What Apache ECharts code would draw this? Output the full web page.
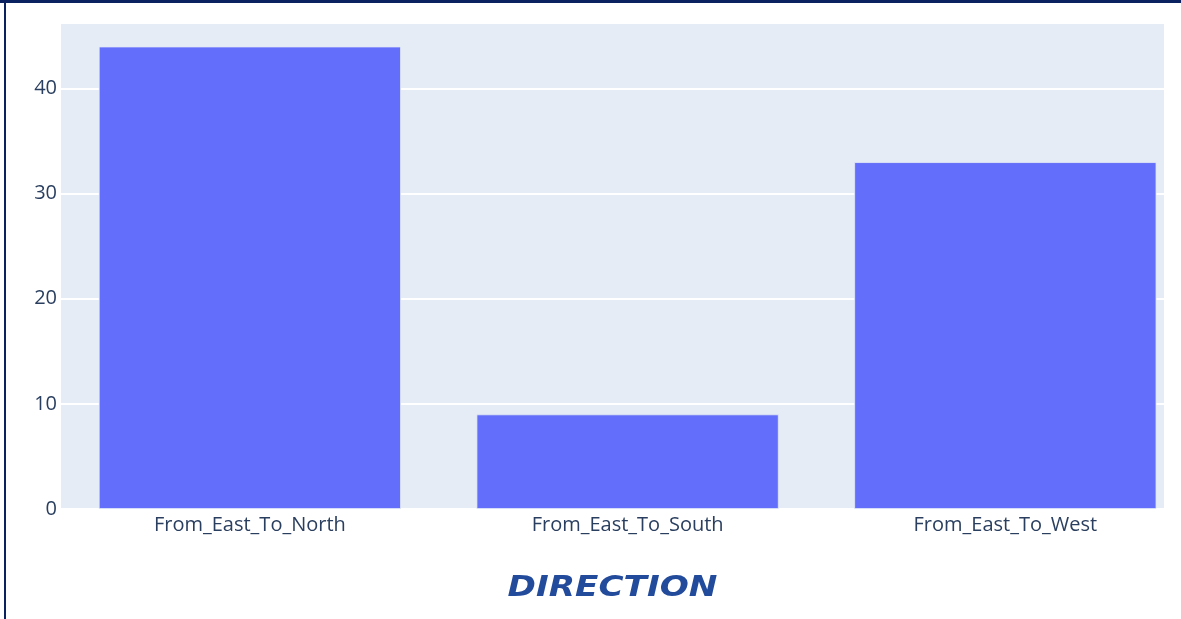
<!DOCTYPE html>
<html>
<head>
<meta charset="utf-8">
<script src="https://cdn.jsdelivr.net/npm/echarts@6/dist/echarts.min.js"></script>
<style>
html,body{margin:0;padding:0;background:#fff;}
#chart{width:1181px;height:619px;}
</style>
</head>
<body>
<div id="chart"></div>
<script>
const categories = ["From_East_To_North", "From_East_To_South", "From_East_To_West"];
const counts = [44, 9, 33];
const yTicks = [0, 10, 20, 30, 40];
const titleText = "DIRECTION";

const chart = echarts.init(document.getElementById('chart'), null, {renderer: 'canvas'});
const positions = categories.map((c, i) => i);
const option = {
  animation: false,
  backgroundColor: '#ffffff',
  grid: {left: 61, right: 17, top: 23, bottom: 110, show: true, backgroundColor: '#E5ECF6', borderWidth: 0},
  xAxis: {
    type: 'value',
    min: -0.5,
    max: 2.42,
    axisLine: {show: true, onZero: false, lineStyle: {color: '#ffffff', width: 2}},
    axisTick: {show: false},
    splitLine: {show: false},
    axisLabel: {
      customValues: positions,
      formatter: v => categories[Math.round(v)],
      fontFamily: 'Open Sans',
      fontSize: 20,
      color: '#2a3f5f',
      margin: 6
    }
  },
  yAxis: {
    type: 'value',
    min: 0,
    max: 46.24,
    interval: 10,
    axisLine: {show: false},
    axisTick: {show: false},
    splitLine: {show: true, lineStyle: {color: '#ffffff', width: 2}},
    axisLabel: {
      customValues: yTicks,
      fontFamily: 'Open Sans',
      fontSize: 20,
      color: '#2a3f5f',
      margin: 4
    }
  },
  series: [{
    type: 'bar',
    data: positions.map((p, i) => [p, counts[i]]),
    barWidth: '80%',
    itemStyle: {color: '#636EFA', borderColor: '#E5ECF6', borderWidth: 0.8}
  }],
  graphic: [
    {type: 'rect', shape: {x: 0, y: 0, width: 1181, height: 3}, style: {fill: '#0b2260'}, z: 100},
    {type: 'rect', shape: {x: 4, y: 0, width: 2, height: 619}, style: {fill: '#0b2260'}, z: 100},
    {type: 'text', x: 612.5, y: 588, scaleX: 1.18, z: 100,
     style: {text: titleText, font: 'italic bold 29px "DejaVu Sans"', fill: '#234b9b', textAlign: 'center', textVerticalAlign: 'middle'}}
  ]
};
chart.setOption(option);
</script>
</body>
</html>
